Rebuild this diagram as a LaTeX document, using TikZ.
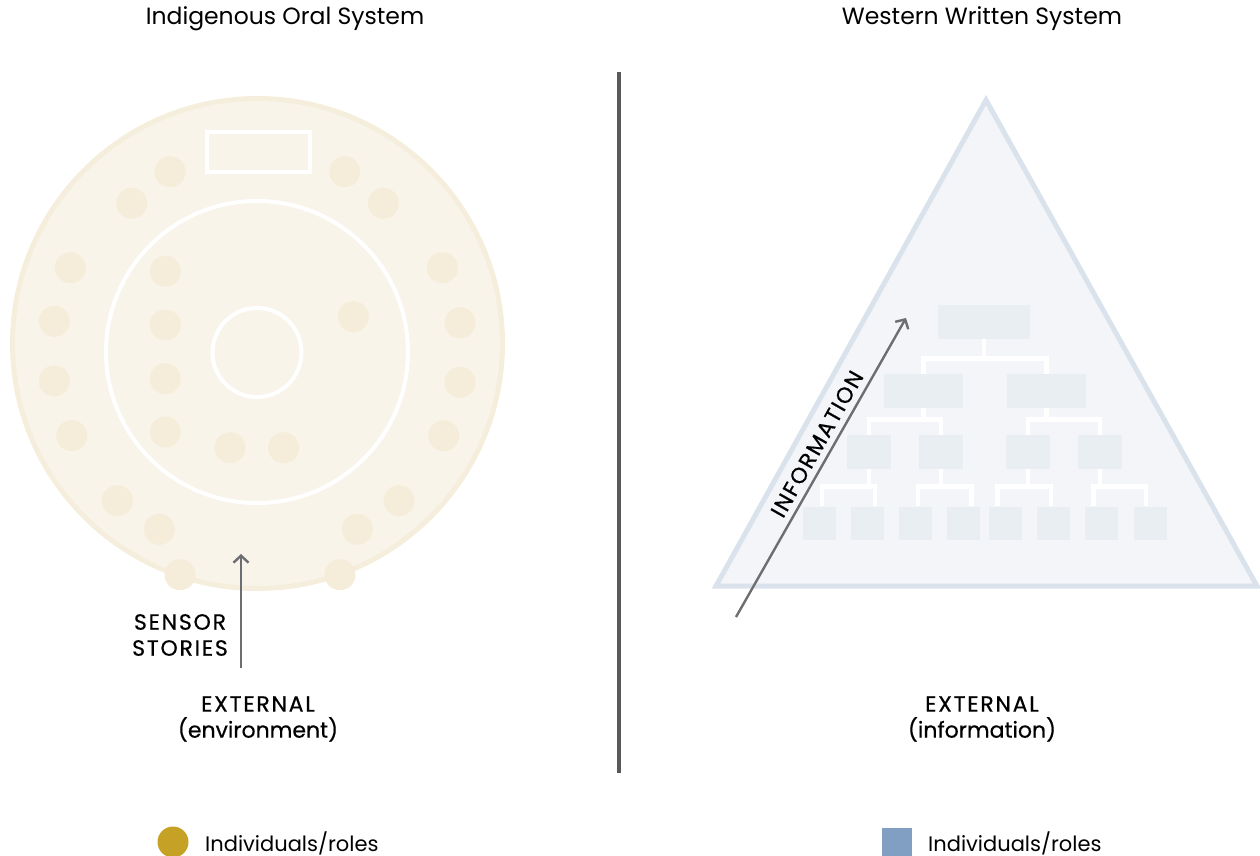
\documentclass[tikz,border=0pt]{standalone}
\usepackage{fontspec}
\setmainfont{Poppins}
\newfontfamily\capfont{Poppins}[LetterSpace=8,FakeBold=0.6]
\newfontfamily\midfont{Poppins}[FakeBold=0.5]
\usetikzlibrary{arrows.meta,positioning}
\definecolor{creamc}{HTML}{F8F4E9}
\definecolor{rimc}{HTML}{F5EEDC}
\definecolor{dotc}{HTML}{F5EDDA}
\definecolor{trifill}{HTML}{F3F5F9}
\definecolor{tririm}{HTML}{DAE3EB}
\definecolor{boxc}{HTML}{E9EEF2}
\definecolor{arrc}{HTML}{6D6E71}
\definecolor{divc}{HTML}{58595B}
\definecolor{goldc}{HTML}{C5A126}
\definecolor{bluec}{HTML}{809FC3}
\begin{document}
\begin{tikzpicture}[x=1pt,y=-1pt,
  every node/.style={inner sep=0pt},
  title/.style={font=\fontsize{23.5}{28}\selectfont},
  lbl/.style={font=\fontsize{22}{26}\selectfont\capfont,align=center},
  key/.style={font=\fontsize{21}{26}\selectfont,anchor=west},
  dot/.style={circle,fill=dotc,minimum size=31pt},
  box/.style={fill=boxc},
  lnk/.style={draw=white,line width=4.5pt},
  flow/.style={draw=arrc,line width=2.4pt,-{Straight Barb[length=7pt,width=15pt]}}]
  \useasboundingbox (0,0) rectangle (1260,856);
  \node[title] (lt) at (285,19) {Indigenous Oral System};
  \node[title] (rt) at (982,19) {Western Written System};
  \draw[divc,line width=4pt] (619,72) -- (619,773);
  \node[circle,draw=rimc,fill=creamc,line width=5pt,minimum size=490pt] (oral) at (257.5,343.5) {};
  \node[circle,draw=white,line width=4pt,minimum size=302pt] (ring) at (257,352) {};
  \node[circle,draw=white,line width=4pt,minimum size=89pt] (fire) at (257,352.5) {};
  \node[draw=white,line width=4pt,minimum width=103pt,minimum height=40pt] (seat) at (258.5,152) {};
  \foreach \x/\y [count=\i] in {170/171.7,131.7/203.3,70.3/267.7,54.3/321.3,54.3/381,71.7/435.7,
      117.3/500.7,159.3/529.3,180/574.7,340/574.7,357.3/529.3,399/500.7,443.7/435.7,
      460/382.3,460/322.7,442.3/267.7,383.3/203.3,344.7/171.7,
      165.3/271.3,165.3/325,165.3/378.7,165.3/432,230/447.7,283.7/447.7,353.3/316.7}
    \node[dot] (d\i) at (\x,\y) {};
  \coordinate (ssin) at (241,668);
  \coordinate (ssto) at (241,554);
  \draw[flow] (ssin) -- (ssto);
  \node[lbl] (ss) at (180,635) {SENSOR\\STORIES};
  \node[lbl] (extl) at (258,719) {EXTERNAL\\{\midfont(environment)}};
  \draw[tririm,fill=trifill,line width=5pt,line join=miter] (986,100) -- (1257,586) -- (716,586) -- cycle;
  \node[box,minimum width=92pt,minimum height=34pt] (b0) at (984,322) {};
  \node[box,minimum width=79pt,minimum height=34pt] (b1) at (923.5,391) {};
  \node[box,minimum width=79pt,minimum height=34pt] (b2) at (1046.5,391) {};
  \node[box,minimum width=44pt,minimum height=34pt] (b11) at (869,452) {};
  \node[box,minimum width=44pt,minimum height=34pt] (b12) at (941,452) {};
  \node[box,minimum width=44pt,minimum height=34pt] (b21) at (1028,452) {};
  \node[box,minimum width=44pt,minimum height=34pt] (b22) at (1100,452) {};
  \foreach \x [count=\i] in {819.5,867.5,915.5,963.5,1005.5,1053.5,1101.5,1150}
    \node[box,minimum width=33pt,minimum height=33pt] (c\i) at (\x,523) {};
  \draw[lnk] (b0.south) -- ++(0,19.5) -| (b1.north);
  \draw[lnk] (b0.south) -- ++(0,19.5) -| (b2.north);
  \draw[lnk] (b1.south) -- ++(0,11.5) -| (b11.north);
  \draw[lnk] (b1.south) -- ++(0,11.5) -| (b12.north);
  \draw[lnk] (b2.south) -- ++(0,11.5) -| (b21.north);
  \draw[lnk] (b2.south) -- ++(0,11.5) -| (b22.north);
  \draw[lnk] (b11.south) -- ++(0,17.5) -| ([xshift=2.5pt]c1.north);
  \draw[lnk] (b11.south) -- ++(0,17.5) -| ([xshift=7.5pt]c2.north);
  \draw[lnk] (b12.south) -- ++(0,17.5) -| ([xshift=2.5pt]c3.north);
  \draw[lnk] (b12.south) -- ++(0,17.5) -| ([xshift=8pt]c4.north);
  \draw[lnk] (b21.south) -- ++(0,17.5) -| ([xshift=-8pt]c5.north);
  \draw[lnk] (b21.south) -- ++(0,17.5) -| ([xshift=-2.5pt]c6.north);
  \draw[lnk] (b22.south) -- ++(0,17.5) -| ([xshift=-8pt]c7.north);
  \draw[lnk] (b22.south) -- ++(0,17.5) -| ([xshift=-4pt]c8.north);
  \coordinate (infin) at (736,617);
  \coordinate (infto) at (906,318);
  \draw[flow] (infin) -- (infto);
  \node[lbl,rotate=60.4] (info) at (817,444) {INFORMATION};
  \node[lbl] (extr) at (982,719) {EXTERNAL\\{\midfont(information)}};
  \node[circle,fill=goldc,minimum size=31pt] (kd) at (173,842) {};
  \node[key] (kdt) at (205,843) {Individuals/roles};
  \node[fill=bluec,minimum size=30pt] (kb) at (897,843) {};
  \node[key] (kbt) at (928,843) {Individuals/roles};
\end{tikzpicture}
\end{document}
